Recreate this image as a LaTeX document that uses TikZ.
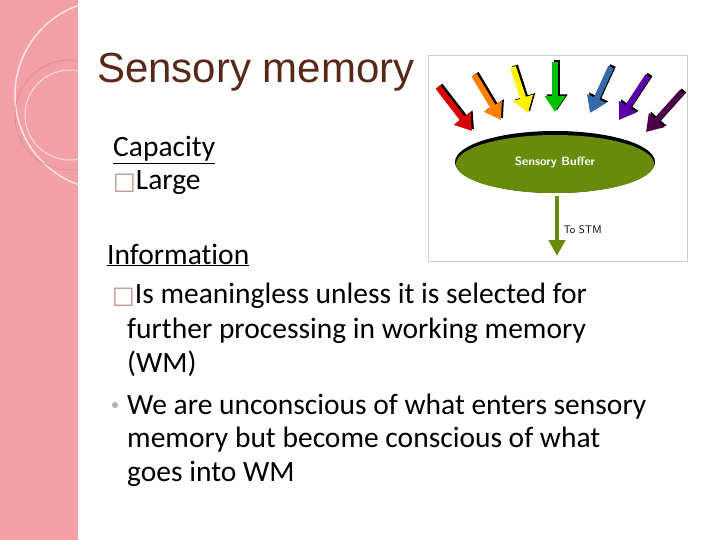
\documentclass[tikz,border=0pt]{standalone}
\usepackage{fontspec}
\setmainfont[RawFeature=-liga]{Carlito}
\newfontfamily\titlefont{Liberation Sans}
\newfontfamily\symfont{DejaVu Sans}
\usetikzlibrary{arrows.meta}
\definecolor{stripPink}{RGB}{242,160,165}
\definecolor{titleBrown}{RGB}{88,40,24}
\definecolor{bufferGreen}{RGB}{104,140,10}
\definecolor{boxMark}{RGB}{190,150,140}
\tikzset{
  line/.style={anchor=base west,inner sep=0pt,font=\fontsize{29.5}{34}\selectfont},
  sense/.style={line width=6pt,-{Triangle[length=16pt,width=20pt]}},
  shadow/.style={sense,black,shift={(2pt,1.5pt)}}
}
\newcommand{\tofu}{{\color{boxMark}\symfont\fontsize{24}{28}\selectfont □}}
\begin{document}
\begin{tikzpicture}[x=1pt,y=-1pt]
\useasboundingbox (0,0) rectangle (720,540);
\fill[white] (0,0) rectangle (720,540);
% left strip
\fill[stripPink] (0,0) rectangle (78,540);
\begin{scope}
\clip (0,0) rectangle (78,540);
\draw[white,line width=1.5pt,opacity=.7] (110,95) circle (95);
\draw[stripPink!80!black,line width=.8pt,opacity=.5] (70,115) circle (55);
\draw[white,line width=1pt,opacity=.6] (70,115) circle (45);
\end{scope}
% title
\node[anchor=base west,inner sep=0pt,text=titleBrown,font=\titlefont\fontsize{42}{48}\selectfont] (title) at (97,83) {Sensory memory};
% picture frame
\draw[gray!40] (428,55) rectangle (687,261);
\foreach \sx/\sy/\ex/\ey/\col in {438/87/472/131/red!85!black, 474/75/501/120/orange, 513/67/528/113/yellow, 555/62/555/112/green!75!black, 611/67/590/113/cyan!50!blue!80!black, 648/76/619/120/violet!70!blue, 682/92/646/132/violet!60!black}{
  \draw[shadow] (\sx,\sy) -- (\ex,\ey);
  \draw[sense,\col] (\sx,\sy) -- (\ex,\ey);
}
\fill[black] (555,162) ellipse (100 and 31);
\fill[bufferGreen] (555,164) ellipse (99 and 29);
\node[white,font=\sffamily\bfseries\fontsize{12}{14}\selectfont] (buffer) at (555,162) {Sensory Buffer};
\coordinate (stm) at (557,256);
\draw[bufferGreen,line width=4pt,-{Triangle[length=16pt,width=16pt]}] (557,196) -- (stm);
\node[anchor=west,font=\sffamily\fontsize{11}{13}\selectfont] (tostm) at (560,230) {To STM};
% text
\node[line] (cap) at (113,157) {\underline{Capacity}};
\node[line] (large) at (113,190) {\tofu Large};
\node[line] (info) at (107,264) {\underline{Information}};
\node[line] (is) at (112,303) {\tofu Is meaningless unless it is selected for};
\node[line] (fp) at (127,338) {further processing in working memory};
\node[line] (wm) at (127,372) {(WM)};
\fill[gray!60] (115,405) circle (3);
\node[line] (we) at (127,414) {We are unconscious of what enters sensory};
\node[line] (mb) at (127,447) {memory but become conscious of what};
\node[line] (gi) at (127,481) {goes into WM};
\end{tikzpicture}
\end{document}
